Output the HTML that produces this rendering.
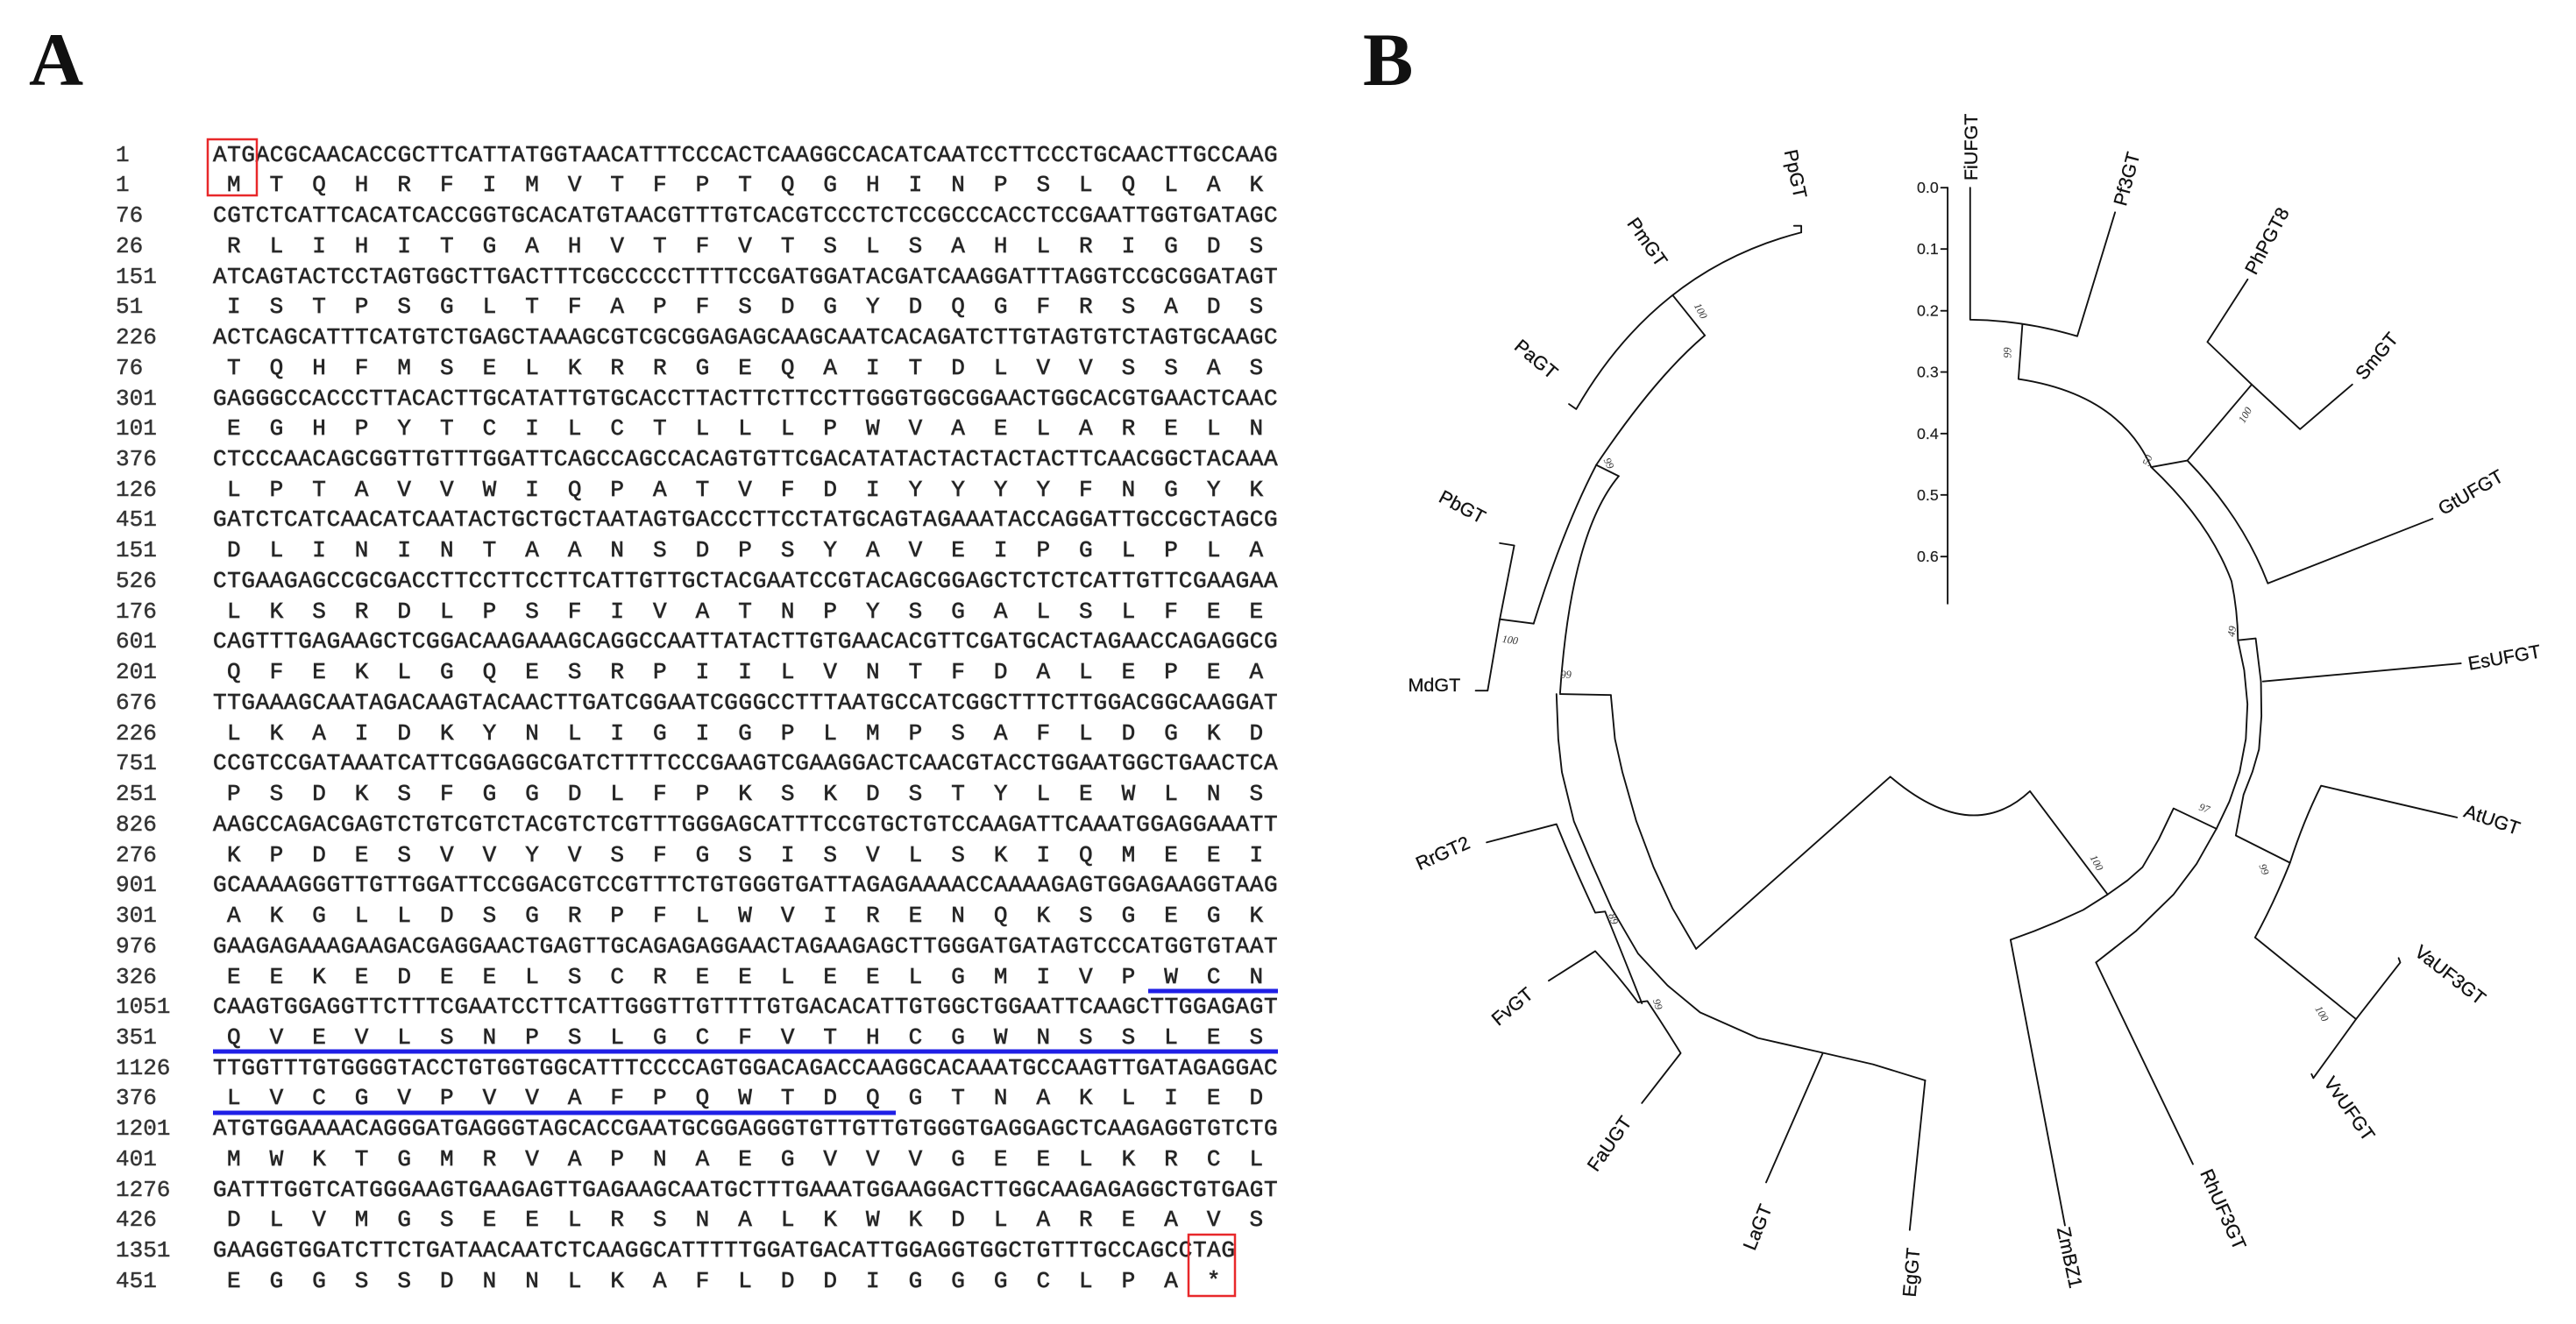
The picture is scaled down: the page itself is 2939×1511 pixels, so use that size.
<!DOCTYPE html>
<html><head><meta charset="utf-8">
<style>
html,body{margin:0;padding:0;background:#fff;}
svg{display:block;}
.dna{font-family:"Liberation Mono",monospace;font-size:26px;fill:#222;stroke:#333;stroke-width:0.7;letter-spacing:0.6px;}
.pro{font-family:"Liberation Mono",monospace;font-size:26px;fill:#222;stroke:#333;stroke-width:0.7;letter-spacing:33px;}
.num{font-family:"Liberation Mono",monospace;font-size:26px;fill:#333;stroke:#444;stroke-width:0.5;}
.lab{font-family:"Liberation Serif",serif;font-weight:bold;font-size:86px;fill:#111;}
.tl{font-family:"Liberation Sans",sans-serif;font-size:11.5px;fill:#111;stroke:#111;stroke-width:0.15;}
.bs{font-family:"Liberation Serif",serif;font-size:6.5px;font-style:italic;fill:#333;}
.sc{font-family:"Liberation Sans",sans-serif;font-size:9.5px;fill:#222;stroke:#222;stroke-width:0.1;}
</style></head>
<body>
<svg width="2939" height="1511" viewBox="0 0 2939 1511" xmlns="http://www.w3.org/2000/svg">
<text class="lab" x="33" y="97">A</text>
<text class="lab" x="1555" y="97">B</text>

<g>
<text class="num" x="132" y="184">1</text>
<text class="num" x="132" y="218">1</text>
<text class="num" x="132" y="253">76</text>
<text class="num" x="132" y="288">26</text>
<text class="num" x="132" y="323">151</text>
<text class="num" x="132" y="357">51</text>
<text class="num" x="132" y="392">226</text>
<text class="num" x="132" y="427">76</text>
<text class="num" x="132" y="462">301</text>
<text class="num" x="132" y="496">101</text>
<text class="num" x="132" y="531">376</text>
<text class="num" x="132" y="566">126</text>
<text class="num" x="132" y="600">451</text>
<text class="num" x="132" y="635">151</text>
<text class="num" x="132" y="670">526</text>
<text class="num" x="132" y="705">176</text>
<text class="num" x="132" y="739">601</text>
<text class="num" x="132" y="774">201</text>
<text class="num" x="132" y="809">676</text>
<text class="num" x="132" y="844">226</text>
<text class="num" x="132" y="878">751</text>
<text class="num" x="132" y="913">251</text>
<text class="num" x="132" y="948">826</text>
<text class="num" x="132" y="983">276</text>
<text class="num" x="132" y="1017">901</text>
<text class="num" x="132" y="1052">301</text>
<text class="num" x="132" y="1087">976</text>
<text class="num" x="132" y="1122">326</text>
<text class="num" x="132" y="1156">1051</text>
<text class="num" x="132" y="1191">351</text>
<text class="num" x="132" y="1226">1126</text>
<text class="num" x="132" y="1260">376</text>
<text class="num" x="132" y="1295">1201</text>
<text class="num" x="132" y="1330">401</text>
<text class="num" x="132" y="1365">1276</text>
<text class="num" x="132" y="1399">426</text>
<text class="num" x="132" y="1434">1351</text>
<text class="num" x="132" y="1469">451</text>

<text class="dna" x="243" y="184">ATGACGCAACACCGCTTCATTATGGTAACATTTCCCACTCAAGGCCACATCAATCCTTCCCTGCAACTTGCCAAG</text>
<text class="dna" x="243" y="253">CGTCTCATTCACATCACCGGTGCACATGTAACGTTTGTCACGTCCCTCTCCGCCCACCTCCGAATTGGTGATAGC</text>
<text class="dna" x="243" y="323">ATCAGTACTCCTAGTGGCTTGACTTTCGCCCCCTTTTCCGATGGATACGATCAAGGATTTAGGTCCGCGGATAGT</text>
<text class="dna" x="243" y="392">ACTCAGCATTTCATGTCTGAGCTAAAGCGTCGCGGAGAGCAAGCAATCACAGATCTTGTAGTGTCTAGTGCAAGC</text>
<text class="dna" x="243" y="462">GAGGGCCACCCTTACACTTGCATATTGTGCACCTTACTTCTTCCTTGGGTGGCGGAACTGGCACGTGAACTCAAC</text>
<text class="dna" x="243" y="531">CTCCCAACAGCGGTTGTTTGGATTCAGCCAGCCACAGTGTTCGACATATACTACTACTACTTCAACGGCTACAAA</text>
<text class="dna" x="243" y="600">GATCTCATCAACATCAATACTGCTGCTAATAGTGACCCTTCCTATGCAGTAGAAATACCAGGATTGCCGCTAGCG</text>
<text class="dna" x="243" y="670">CTGAAGAGCCGCGACCTTCCTTCCTTCATTGTTGCTACGAATCCGTACAGCGGAGCTCTCTCATTGTTCGAAGAA</text>
<text class="dna" x="243" y="739">CAGTTTGAGAAGCTCGGACAAGAAAGCAGGCCAATTATACTTGTGAACACGTTCGATGCACTAGAACCAGAGGCG</text>
<text class="dna" x="243" y="809">TTGAAAGCAATAGACAAGTACAACTTGATCGGAATCGGGCCTTTAATGCCATCGGCTTTCTTGGACGGCAAGGAT</text>
<text class="dna" x="243" y="878">CCGTCCGATAAATCATTCGGAGGCGATCTTTTCCCGAAGTCGAAGGACTCAACGTACCTGGAATGGCTGAACTCA</text>
<text class="dna" x="243" y="948">AAGCCAGACGAGTCTGTCGTCTACGTCTCGTTTGGGAGCATTTCCGTGCTGTCCAAGATTCAAATGGAGGAAATT</text>
<text class="dna" x="243" y="1017">GCAAAAGGGTTGTTGGATTCCGGACGTCCGTTTCTGTGGGTGATTAGAGAAAACCAAAAGAGTGGAGAAGGTAAG</text>
<text class="dna" x="243" y="1087">GAAGAGAAAGAAGACGAGGAACTGAGTTGCAGAGAGGAACTAGAAGAGCTTGGGATGATAGTCCCATGGTGTAAT</text>
<text class="dna" x="243" y="1156">CAAGTGGAGGTTCTTTCGAATCCTTCATTGGGTTGTTTTGTGACACATTGTGGCTGGAATTCAAGCTTGGAGAGT</text>
<text class="dna" x="243" y="1226">TTGGTTTGTGGGGTACCTGTGGTGGCATTTCCCCAGTGGACAGACCAAGGCACAAATGCCAAGTTGATAGAGGAC</text>
<text class="dna" x="243" y="1295">ATGTGGAAAACAGGGATGAGGGTAGCACCGAATGCGGAGGGTGTTGTTGTGGGTGAGGAGCTCAAGAGGTGTCTG</text>
<text class="dna" x="243" y="1365">GATTTGGTCATGGGAAGTGAAGAGTTGAGAAGCAATGCTTTGAAATGGAAGGACTTGGCAAGAGAGGCTGTGAGT</text>
<text class="dna" x="243" y="1434">GAAGGTGGATCTTCTGATAACAATCTCAAGGCATTTTTGGATGACATTGGAGGTGGCTGTTTGCCAGCCTAG</text>

<text class="pro" x="259" y="218">MTQHRFIMVTFPTQGHINPSLQLAK</text>
<text class="pro" x="259" y="288">RLIHITGAHVTFVTSLSAHLRIGDS</text>
<text class="pro" x="259" y="357">ISTPSGLTFAPFSDGYDQGFRSADS</text>
<text class="pro" x="259" y="427">TQHFMSELKRRGEQAITDLVVSSAS</text>
<text class="pro" x="259" y="496">EGHPYTCILCTLLLPWVAELARELN</text>
<text class="pro" x="259" y="566">LPTAVVWIQPATVFDIYYYYFNGYK</text>
<text class="pro" x="259" y="635">DLININTAANSDPSYAVEIPGLPLA</text>
<text class="pro" x="259" y="705">LKSRDLPSFIVATNPYSGALSLFEE</text>
<text class="pro" x="259" y="774">QFEKLGQESRPIILVNTFDALEPEA</text>
<text class="pro" x="259" y="844">LKAIDKYNLIGIGPLMPSAFLDGKD</text>
<text class="pro" x="259" y="913">PSDKSFGGDLFPKSKDSTYLEWLNS</text>
<text class="pro" x="259" y="983">KPDESVVYVSFGSISVLSKIQMEEI</text>
<text class="pro" x="259" y="1052">AKGLLDSGRPFLWVIRENQKSGEGK</text>
<text class="pro" x="259" y="1122">EEKEDEELSCREELEELGMIVPWCN</text>
<text class="pro" x="259" y="1191">QVEVLSNPSLGCFVTHCGWNSSLES</text>
<text class="pro" x="259" y="1260">LVCGVPVVAFPQWTDQGTNAKLIED</text>
<text class="pro" x="259" y="1330">MWKTGMRVAPNAEGVVVGEELKRCL</text>
<text class="pro" x="259" y="1399">DLVMGSEELRSNALKWKDLAREAVS</text>
<text class="pro" x="259" y="1469">EGGSSDNNLKAFLDDIGGGCLPA*</text>

<rect x="237" y="159" width="56" height="64" fill="none" stroke="#e8282a" stroke-width="2.5"/>
<rect x="1356" y="1409" width="53" height="70" fill="none" stroke="#e8282a" stroke-width="2.5"/>
<line x1="1310" y1="1131" x2="1458" y2="1131" stroke="#1f1fe6" stroke-width="5"/>
<line x1="243" y1="1200" x2="1458" y2="1200" stroke="#1f1fe6" stroke-width="5"/>
<line x1="243" y1="1270" x2="1022" y2="1270" stroke="#1f1fe6" stroke-width="5"/>
</g>

<g transform="scale(1.8744)">
<g fill="none" stroke="#111" stroke-width="1" stroke-linejoin="round" stroke-linecap="round">
<path d="M1092,137.5 L1096.4,137.5 L1096.4,141.5"/>
<path d="M1096.4,141.5 Q1008.3,164.1 959.4,249.1 L955,246"/>
<path d="M1018.1,179.7 L1037.7,204.2"/>
<path d="M1037.7,204.2 Q1007.2,230 971.6,283.1 L985.3,289.9"/>
<path d="M985.3,289.9 Q956.2,324.7 949.6,421.9"/>
<path d="M949.6,422.6 L980.5,423.2"/>
<path d="M933.5,379.7 Q951.5,321.8 971.6,283.1"/>
<path d="M912.9,377 L933.5,379.7"/>
<path d="M912.9,330.7 L921.7,332.1 L912.9,377 L905.5,420.5 L898.2,420.5"/>
<polyline points="980.5,423.2 983,450 987.5,470 996,500 1006.5,528 1018,553 1032.4,577.7"/>
<polyline points="947.4,422.6 948.5,450 950.7,470.1 958,500 968.7,525.3 981,553 997,580.5 1015,600 1034.8,616.4 1070,632 1110.4,641.2 1140,648 1171.8,657.8"/>
<path d="M1109.5,641.2 L1075,719.9"/>
<path d="M1171.8,657.8 L1162.4,748.9"/>
<path d="M904.9,512.9 L947.4,501.8 Q958,528 971,555.7 L977,555"/>
<path d="M977,555 Q988,582 999.4,610.9"/>
<path d="M942.7,597.1 L971,579.1 Q985,594 997,610.3 L1002.7,609.5 Q1013,625 1023,641.2 L999.4,671.6"/>
<path d="M1032.4,577.7 L1150.6,472.9 Q1200,515 1235.6,481.7 L1282.9,544.6"/>
<polyline points="1282.9,544.6 1268,554 1252.2,561.2 1238,567 1223.8,572.2"/>
<path d="M1223.8,572.2 L1256.9,746.1"/>
<polyline points="1282.9,544.6 1295,536 1304.1,528 1314,511 1323,492.2 1349.1,504.6"/>
<polyline points="1349.1,504.6 1337,526 1323,544.6 1300,567 1275.8,586"/>
<path d="M1275.8,586 L1334.8,708.8"/>
<polyline points="1349.1,504.6 1357,488 1363.2,470.1 1367,450 1368,428.7 1366,408 1362.2,389.8 1373,388.7 1376.2,414.9 1376.5,436 1375,456.3 1371,470 1365.6,483.9 1360.9,508.7 1393.9,525.3"/>
<path d="M1377.4,414.9 L1497.9,403.9"/>
<path d="M1495.5,497.7 L1412.8,478.4 Q1402,500 1393.9,525.3 Q1384,550 1372.6,570.8 L1434.1,620.5"/>
<path d="M1460,583.3 L1461,586 L1434.1,620.5 L1408.1,656.4 L1407,654"/>
<path d="M1199.2,114.3 L1199.2,194.6 Q1232,195 1264.4,204.7 L1287.4,129.3"/>
<path d="M1231,197.5 L1228.6,230.8 Q1290,240 1309.4,284.4 L1331.4,280.4 L1370.6,234.1"/>
<path d="M1368.1,170.1 L1343.6,208.2 L1370.6,234.1 L1400,261.3 L1431.8,234.1"/>
<path d="M1331.4,280.4 Q1365,315 1380.4,355.2 L1480.7,315.8"/>
<path d="M1309.4,284.4 Q1345,318 1358.3,353.9 Q1362,372 1362.2,389.8"/>
<path d="M1185.5,114.3 L1185.5,367.5"/>
<path d="M1181.5,114.3 H1185.5 M1181.5,151.6 H1185.5 M1181.5,189.2 H1185.5 M1181.5,226.5 H1185.5 M1181.5,264 H1185.5 M1181.5,301.3 H1185.5 M1181.5,338.9 H1185.5"/>
</g>
<g class="sc" text-anchor="end">
<text x="1180" y="117.5">0.0</text>
<text x="1180" y="154.8">0.1</text>
<text x="1180" y="192.4">0.2</text>
<text x="1180" y="229.7">0.3</text>
<text x="1180" y="267.2">0.4</text>
<text x="1180" y="304.5">0.5</text>
<text x="1180" y="342.1">0.6</text>
</g>
<g class="tl">
<text transform="translate(1086,92) rotate(78)">PpGT</text>
<text transform="translate(990,136) rotate(55)">PmGT</text>
<text transform="translate(921,212) rotate(40)">PaGT</text>
<text transform="translate(875,305) rotate(28)">PbGT</text>
<text x="889" y="421" text-anchor="end">MdGT</text>
<text transform="translate(864,530) rotate(-24)">RrGT2</text>
<text transform="translate(912,625) rotate(-40)">FvGT</text>
<text transform="translate(972,714) rotate(-55)">FaUGT</text>
<text transform="translate(1068,762) rotate(-68)">LaGT</text>
<text transform="translate(1166,790) rotate(-85)">EgGT</text>
<text transform="translate(1252,748) rotate(78)">ZmBZ1</text>
<text transform="translate(1339,714) rotate(66)">RhUF3GT</text>
<text transform="translate(1414,659) rotate(55)">VvUFGT</text>
<text transform="translate(1469,581) rotate(38)">VaUF3GT</text>
<text transform="translate(1499,497) rotate(19)">AtUGT</text>
<text transform="translate(1503,408) rotate(-10)">EsUFGT</text>
<text transform="translate(1487,314) rotate(-30)">GtUFGT</text>
<text transform="translate(1439,232) rotate(-50)">SmGT</text>
<text transform="translate(1373,168) rotate(-62)">PhPGT8</text>
<text transform="translate(1294,126) rotate(-75)">Pf3GT</text>
<text transform="translate(1203.5,110) rotate(-90)">FiUFGT</text>
</g>
<g class="bs">
<text transform="translate(1031,186) rotate(62)">100</text>
<text transform="translate(976,280) rotate(65)">99</text>
<text transform="translate(914,391) rotate(8)">100</text>
<text transform="translate(950,413)">99</text>
<text transform="translate(979,557) rotate(72)">89</text>
<text transform="translate(1006,609) rotate(72)">99</text>
<text transform="translate(1272,522) rotate(62)">100</text>
<text transform="translate(1338,493) rotate(20)">97</text>
<text transform="translate(1375,527) rotate(70)">99</text>
<text transform="translate(1409,614) rotate(60)">100</text>
<text transform="translate(1360,388) rotate(-80)">49</text>
<text transform="translate(1308,284) rotate(-70)">50</text>
<text transform="translate(1366,258) rotate(-60)">100</text>
<text transform="translate(1224,218) rotate(-90)">99</text>
</g>
</g>
</svg>
</body></html>
